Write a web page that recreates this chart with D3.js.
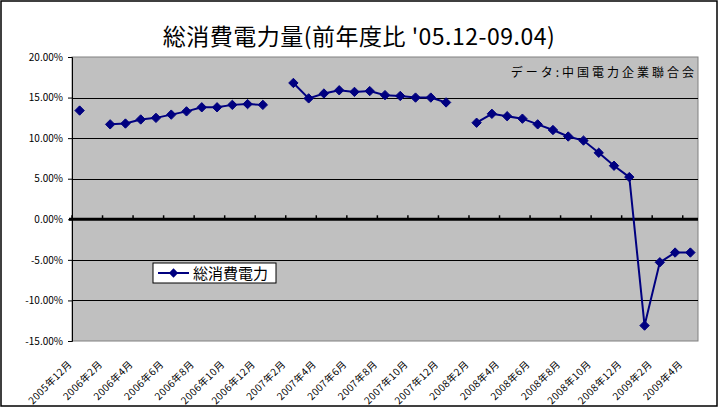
<!DOCTYPE html>
<html>
<head>
<meta charset="utf-8">
<script src="https://cdn.jsdelivr.net/npm/d3@7/dist/d3.min.js"></script>
<style>
  html, body { margin: 0; padding: 0; background: #fff; }
  svg { display: block; }
  text { font-family: "Noto Sans CJK JP", "Noto Sans", sans-serif; }
</style>
</head>
<body>
<svg id="chart" width="722" height="409"></svg>
<script>
// ---- data ----
const categories = [
  "2005年12月",
  "2006年1月","2006年2月","2006年3月","2006年4月","2006年5月","2006年6月",
  "2006年7月","2006年8月","2006年9月","2006年10月","2006年11月","2006年12月",
  "2007年1月","2007年2月","2007年3月","2007年4月","2007年5月","2007年6月",
  "2007年7月","2007年8月","2007年9月","2007年10月","2007年11月","2007年12月",
  "2008年1月","2008年2月","2008年3月","2008年4月","2008年5月","2008年6月",
  "2008年7月","2008年8月","2008年9月","2008年10月","2008年11月","2008年12月",
  "2009年1月","2009年2月","2009年3月","2009年4月"
];
// 総消費電力 (前年同月比, %) — null = no data
const powerValues = [
  13.4,
  null, 11.7, 11.8, 12.3, 12.5, 12.9,
  13.3, 13.8, 13.8, 14.1, 14.2, 14.1,
  null, 16.8, 14.9, 15.5, 15.9, 15.7,
  15.8, 15.3, 15.2, 15.0, 15.0, 14.4,
  null, 11.9, 13.0, 12.7, 12.4, 11.7,
  11.0, 10.2, 9.7, 8.2, 6.6, 5.2,
  -13.1, -5.3, -4.1, -4.1
];
const yTicks = [20, 15, 10, 5, 0, -5, -10, -15];
const seriesName = "総消費電力";
const titleText = "総消費電力量(前年度比 '05.12-09.04)";
const sourceText = "データ:中国電力企業聯合会";

// ---- layout ----
const svg = d3.select("#chart");
const plot = { left: 72, right: 698, top: 57, bottom: 341 };

const x = d3.scaleBand().domain(categories).range([plot.left, plot.right]).padding(0);
const y = d3.scaleLinear().domain([-15, 20]).range([plot.bottom, plot.top]);

// outer frame
svg.append("rect").attr("x", 1).attr("y", 1).attr("width", 716).attr("height", 405)
  .attr("fill", "#fff").attr("stroke", "#000").attr("stroke-width", 1.5);

// title
svg.append("text").attr("x", 359).attr("y", 45).attr("text-anchor", "middle")
  .attr("font-size", 23).attr("letter-spacing", 0.5).attr("fill", "#000").text(titleText);

// plot area
svg.append("rect").attr("x", plot.left).attr("y", plot.top)
  .attr("width", plot.right - plot.left).attr("height", plot.bottom - plot.top)
  .attr("fill", "#c0c0c0").attr("stroke", "#808080").attr("stroke-width", 1);

// gridlines
svg.append("g").selectAll("line").data(yTicks.filter(d => d !== 0 && d !== -15 && d !== 20)).join("line")
  .attr("x1", plot.left).attr("x2", plot.right)
  .attr("y1", d => Math.round(y(d)) + 0.5).attr("y2", d => Math.round(y(d)) + 0.5)
  .attr("stroke", "#000").attr("stroke-width", 1);

// y axis
const yAxis = d3.axisLeft(y).tickValues(yTicks).tickSize(4).tickPadding(5);
const gy = svg.append("g").attr("transform", `translate(${plot.left},0)`).call(yAxis);
gy.select(".domain").attr("stroke", "#000");
gy.selectAll(".tick line").attr("stroke", "#000");
gy.selectAll(".tick text").attr("font-size", 10).attr("fill", "#000")
  .attr("font-family", "'Noto Sans CJK JP', sans-serif")
  .text(d => (d < 0 ? "-" + d3.format(".2f")(-d) : d3.format(".2f")(d)) + "%");

// zero axis line with tick marks at every second category boundary
const y0 = y(0);
const bw = x.bandwidth();
const tickIdx = d3.range(0, categories.length + 1, 2);
svg.append("g").selectAll("line").data(tickIdx).join("line")
  .attr("x1", i => plot.left + i * bw).attr("x2", i => plot.left + i * bw)
  .attr("y1", y0 - 4).attr("y2", y0)
  .attr("stroke", "#000").attr("stroke-width", 1.5);
svg.append("line").attr("x1", plot.left - 3).attr("x2", plot.right)
  .attr("y1", y0).attr("y2", y0).attr("stroke", "#000").attr("stroke-width", 3);

// x labels (every 2nd category)
const labelCats = categories.filter((c, i) => i % 2 === 0);
svg.append("g").selectAll("text").data(labelCats).join("text")
  .attr("transform", c => `translate(${x(c) + bw / 2 - 7},365) rotate(-45)`)
  .attr("text-anchor", "end").attr("font-size", 10).attr("letter-spacing", 0.4)
  .attr("fill", "#000").text(c => c);

// series line
const pts = categories.map((c, i) => ({ c, v: powerValues[i] }));
const line = d3.line().defined(d => d.v !== null)
  .x(d => x(d.c) + bw / 2).y(d => y(d.v));
svg.append("path").datum(pts).attr("d", line)
  .attr("fill", "none").attr("stroke", "#000080").attr("stroke-width", 2);

const diamond = d3.symbol().type(d3.symbolDiamond2).size(56);
svg.append("g").selectAll("path").data(pts.filter(d => d.v !== null)).join("path")
  .attr("transform", d => `translate(${x(d.c) + bw / 2},${y(d.v)})`)
  .attr("d", diamond).attr("fill", "#000080").attr("stroke", "#000080").attr("stroke-width", 1);

// data source
svg.append("text").attr("x", 697).attr("y", 77).attr("text-anchor", "end")
  .attr("font-size", 12).attr("letter-spacing", 3).attr("fill", "#000").text(sourceText);

// legend
const lg = svg.append("g").attr("transform", "translate(153,263)");
lg.append("rect").attr("width", 123).attr("height", 20).attr("fill", "#fff")
  .attr("stroke", "#000").attr("stroke-width", 1);
lg.append("line").attr("x1", 5).attr("x2", 36).attr("y1", 10).attr("y2", 10)
  .attr("stroke", "#000080").attr("stroke-width", 2);
lg.append("path").attr("transform", "translate(20.5,10)").attr("d", diamond)
  .attr("fill", "#000080");
lg.append("text").attr("x", 40).attr("y", 16).attr("font-size", 15).attr("fill", "#000")
  .text(seriesName);
</script>
</body>
</html>
